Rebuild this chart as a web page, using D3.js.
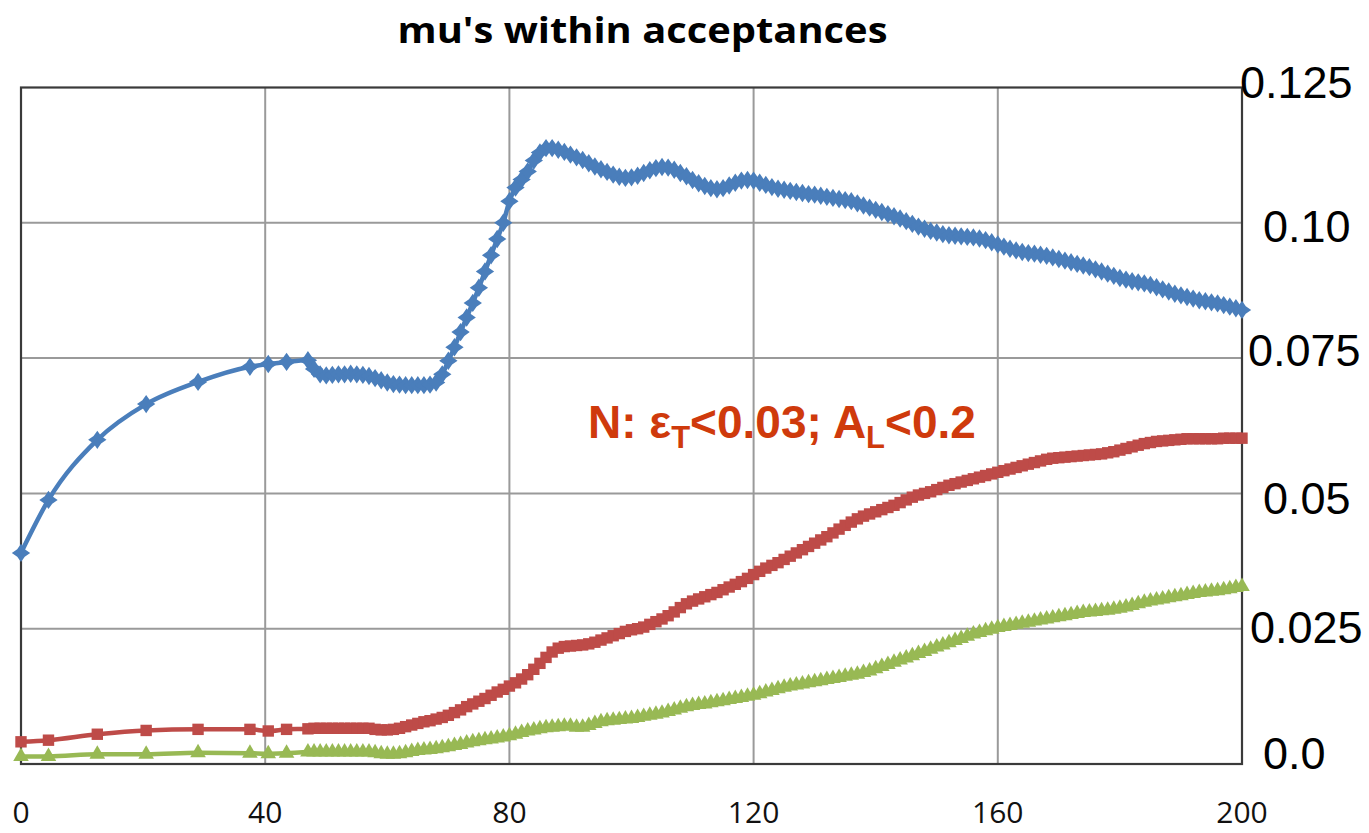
<!DOCTYPE html>
<html>
<head>
<meta charset="utf-8">
<script src="https://cdn.jsdelivr.net/npm/d3@7"></script>
<style>
  html, body { margin: 0; padding: 0; background: #ffffff; }
  svg { display: block; }
</style>
</head>
<body>
<svg id="chart" width="1369" height="833"></svg>
<script>
// Sample positions (x) shared by all three series
const xValues = [
  0, 4.5, 12.5, 20.5, 29, 37.5, 40.5, 43.5,
  47, 48, 49, 50, 51, 52, 53, 54, 55, 56,
  57, 58, 59, 60, 61, 62, 63, 64, 65, 66,
  67, 68, 69, 70, 71, 72, 73, 74, 75, 76,
  77, 78, 79, 80, 81, 82, 83, 84, 85, 86,
  87, 88, 89, 90, 91, 92, 93, 94, 95, 96,
  97, 98, 99, 100, 101, 102, 103, 104, 105, 106,
  107, 108, 109, 110, 111, 112, 113, 114, 115, 116,
  117, 118, 119, 120, 121, 122, 123, 124, 125, 126,
  127, 128, 129, 130, 131, 132, 133, 134, 135, 136,
  137, 138, 139, 140, 141, 142, 143, 144, 145, 146,
  147, 148, 149, 150, 151, 152, 153, 154, 155, 156,
  157, 158, 159, 160, 161, 162, 163, 164, 165, 166,
  167, 168, 169, 170, 171, 172, 173, 174, 175, 176,
  177, 178, 179, 180, 181, 182, 183, 184, 185, 186,
  187, 188, 189, 190, 191, 192, 193, 194, 195, 196,
  197, 198, 199, 200
];

// Blue series
const blueValues = [
  0.0390, 0.0488, 0.0599, 0.0665, 0.0706, 0.0734, 0.0739, 0.0743,
  0.0746, 0.0730, 0.0720, 0.0718, 0.0719, 0.0720, 0.0720, 0.0721, 0.0720, 0.0719,
  0.0717, 0.0713, 0.0709, 0.0705, 0.0702, 0.0701, 0.0700, 0.0700, 0.0700, 0.0700,
  0.0701, 0.0705, 0.0720, 0.0745, 0.0770, 0.0798, 0.0825, 0.0852, 0.0880, 0.0910,
  0.0940, 0.0970, 0.1000, 0.1040, 0.1065, 0.1080, 0.1095, 0.1115, 0.1130, 0.1138,
  0.1138, 0.1135, 0.1131, 0.1126, 0.1121, 0.1116, 0.1110, 0.1104, 0.1099, 0.1094,
  0.1089, 0.1085, 0.1083, 0.1084, 0.1087, 0.1092, 0.1097, 0.1101, 0.1103, 0.1102,
  0.1098, 0.1092, 0.1086, 0.1079, 0.1073, 0.1068, 0.1064, 0.1062, 0.1064, 0.1069,
  0.1074, 0.1078, 0.1079, 0.1078, 0.1074, 0.1070, 0.1066, 0.1063, 0.1061, 0.1059,
  0.1057, 0.1055, 0.1053, 0.1052, 0.1050, 0.1048, 0.1046, 0.1044, 0.1042, 0.1040,
  0.1036, 0.1032, 0.1028, 0.1024, 0.1020, 0.1016, 0.1012, 0.1008, 0.1003, 0.0998,
  0.0993, 0.0989, 0.0985, 0.0982, 0.0979, 0.0977, 0.0976, 0.0975, 0.0974, 0.0973,
  0.0971, 0.0968, 0.0964, 0.0960, 0.0956, 0.0952, 0.0949, 0.0946, 0.0944, 0.0943,
  0.0941, 0.0939, 0.0936, 0.0933, 0.0930, 0.0927, 0.0924, 0.0921, 0.0918, 0.0914,
  0.0910, 0.0906, 0.0902, 0.0898, 0.0895, 0.0892, 0.0890, 0.0888, 0.0885, 0.0881,
  0.0877, 0.0873, 0.0869, 0.0866, 0.0863, 0.0860, 0.0857, 0.0855, 0.0853, 0.0851,
  0.0848, 0.0845, 0.0842, 0.0839
];

// Red series
const redValues = [
  0.0041, 0.0044, 0.0055, 0.0062, 0.0064, 0.0064, 0.0061, 0.0064,
  0.0065, 0.0066, 0.0066, 0.0066, 0.0066, 0.0066, 0.0066, 0.0066, 0.0066, 0.0066,
  0.0066, 0.0064, 0.0063, 0.0063, 0.0064, 0.0066, 0.0069, 0.0072, 0.0075, 0.0078,
  0.0080, 0.0083, 0.0086, 0.0090, 0.0095, 0.0100, 0.0106, 0.0111, 0.0116, 0.0121,
  0.0127, 0.0133, 0.0138, 0.0144, 0.0150, 0.0157, 0.0165, 0.0175, 0.0186, 0.0197,
  0.0207, 0.0214, 0.0217, 0.0218, 0.0219, 0.0220, 0.0222, 0.0225, 0.0229, 0.0233,
  0.0237, 0.0241, 0.0245, 0.0248, 0.0250, 0.0253, 0.0258, 0.0263, 0.0268, 0.0274,
  0.0281, 0.0289, 0.0296, 0.0301, 0.0305, 0.0309, 0.0313, 0.0317, 0.0322, 0.0327,
  0.0332, 0.0337, 0.0343, 0.0350, 0.0356, 0.0362, 0.0367, 0.0372, 0.0378, 0.0384,
  0.0390, 0.0396, 0.0402, 0.0408, 0.0414, 0.0420, 0.0427, 0.0434, 0.0441, 0.0447,
  0.0453, 0.0458, 0.0462, 0.0466, 0.0470, 0.0474, 0.0478, 0.0483, 0.0488, 0.0493,
  0.0497, 0.0500, 0.0503, 0.0507, 0.0511, 0.0515, 0.0518, 0.0521, 0.0524, 0.0527,
  0.0530, 0.0533, 0.0536, 0.0539, 0.0542, 0.0545, 0.0548, 0.0551, 0.0554, 0.0557,
  0.0560, 0.0563, 0.0565, 0.0566, 0.0567, 0.0568, 0.0569, 0.0570, 0.0571, 0.0572,
  0.0573, 0.0575, 0.0577, 0.0580, 0.0583, 0.0586, 0.0589, 0.0592, 0.0594, 0.0596,
  0.0597, 0.0598, 0.0599, 0.0600, 0.0601, 0.0601, 0.0601, 0.0601, 0.0601, 0.0601,
  0.0602, 0.0602, 0.0602, 0.0602
];

// Green series
const greenValues = [
  0.0014, 0.0014, 0.0018, 0.0018, 0.0021, 0.0020, 0.0019, 0.0020,
  0.0022, 0.0022, 0.0022, 0.0022, 0.0022, 0.0022, 0.0022, 0.0022, 0.0022, 0.0022,
  0.0022, 0.0021, 0.0019, 0.0018, 0.0018, 0.0019, 0.0021, 0.0023, 0.0025, 0.0026,
  0.0027, 0.0028, 0.0030, 0.0032, 0.0034, 0.0036, 0.0039, 0.0041, 0.0043, 0.0045,
  0.0046, 0.0048, 0.0050, 0.0052, 0.0055, 0.0058, 0.0061, 0.0063, 0.0065, 0.0067,
  0.0068, 0.0069, 0.0070, 0.0070, 0.0068, 0.0068, 0.0071, 0.0075, 0.0078, 0.0080,
  0.0081, 0.0082, 0.0083, 0.0084, 0.0086, 0.0088, 0.0090, 0.0092, 0.0094, 0.0097,
  0.0100, 0.0103, 0.0106, 0.0108, 0.0110, 0.0111, 0.0113, 0.0115, 0.0117, 0.0119,
  0.0121, 0.0123, 0.0125, 0.0127, 0.0130, 0.0133, 0.0136, 0.0139, 0.0142, 0.0144,
  0.0146, 0.0148, 0.0150, 0.0152, 0.0154, 0.0156, 0.0158, 0.0160, 0.0162, 0.0164,
  0.0166, 0.0169, 0.0172, 0.0176, 0.0180, 0.0184, 0.0188, 0.0192, 0.0196, 0.0200,
  0.0204, 0.0208, 0.0212, 0.0216, 0.0220, 0.0224, 0.0228, 0.0232, 0.0236, 0.0240,
  0.0243, 0.0246, 0.0249, 0.0252, 0.0254, 0.0256, 0.0258, 0.0260, 0.0262, 0.0264,
  0.0266, 0.0268, 0.0270, 0.0272, 0.0274, 0.0276, 0.0278, 0.0280, 0.0281, 0.0282,
  0.0283, 0.0284, 0.0286, 0.0288, 0.0290, 0.0293, 0.0296, 0.0299, 0.0301, 0.0303,
  0.0305, 0.0307, 0.0309, 0.0311, 0.0313, 0.0315, 0.0317, 0.0318, 0.0319, 0.0320,
  0.0322, 0.0324, 0.0326, 0.0328
];

const xTicks = [0, 40, 80, 120, 160, 200];
const yTicks = [0, 0.025, 0.05, 0.075, 0.10, 0.125];
const yTickLabels = ["0.0", "0.025", "0.05", "0.075", "0.10", "0.125"];

const titleText = "mu's within acceptances";

// ---- layout ----
const svg = d3.select("#chart");
const plot = { left: 21, right: 1242, top: 87.5, bottom: 764 };

const x = d3.scaleLinear().domain([0, 200]).range([plot.left, plot.right]);
const y = d3.scaleLinear().domain([0, 0.125]).range([plot.bottom, plot.top]);

// gridlines
const grid = svg.append("g").attr("class", "grid");
grid.selectAll("line.gx")
  .data(xTicks.filter(t => t > 0 && t < 200))
  .join("line")
  .attr("x1", d => x(d)).attr("x2", d => x(d))
  .attr("y1", plot.top).attr("y2", plot.bottom)
  .attr("stroke", "#9a9a9a").attr("stroke-width", 2);
grid.selectAll("line.gy")
  .data(yTicks.filter(t => t > 0 && t < 0.125))
  .join("line")
  .attr("x1", plot.left).attr("x2", plot.right)
  .attr("y1", d => y(d)).attr("y2", d => y(d))
  .attr("stroke", "#9a9a9a").attr("stroke-width", 2);

// plot frame
svg.append("rect")
  .attr("x", plot.left).attr("y", plot.top)
  .attr("width", plot.right - plot.left).attr("height", plot.bottom - plot.top)
  .attr("fill", "none").attr("stroke", "#3a3a3a").attr("stroke-width", 2.2);

// x tick labels
svg.append("g").selectAll("text")
  .data(xTicks)
  .join("text")
  .attr("x", d => x(d))
  .attr("y", 823)
  .attr("text-anchor", "middle")
  .attr("font-family", "'Open Sans', sans-serif")
  .attr("font-size", 30)
  .attr("fill", "#111")
  .text(d => d);

// y tick labels on the right, each nudged to sit beside its gridline
const yLabelPlace = {
  "0.0":   { x: 1263, dy: 5 },
  "0.025": { x: 1250, dy: 14 },
  "0.05":  { x: 1263, dy: 21 },
  "0.075": { x: 1248, dy: 8 },
  "0.10":  { x: 1263, dy: 19 },
  "0.125": { x: 1240, dy: 10 }
};
svg.append("g").selectAll("text")
  .data(yTicks.map((v, i) => ({ v, label: yTickLabels[i] })))
  .join("text")
  .attr("x", d => yLabelPlace[d.label].x)
  .attr("y", d => y(d.v) + yLabelPlace[d.label].dy)
  .attr("text-anchor", "start")
  .attr("font-family", "'Liberation Sans', Arial, sans-serif")
  .attr("font-size", 45)
  .attr("fill", "#000")
  .text(d => d.label);

// title
svg.append("text")
  .attr("x", 642.5).attr("y", 43)
  .attr("text-anchor", "middle")
  .attr("font-family", "'Open Sans', sans-serif")
  .attr("font-weight", "bold")
  .attr("font-size", 36)
  .attr("textLength", 490)
  .attr("lengthAdjust", "spacingAndGlyphs")
  .attr("fill", "#000")
  .text(titleText);

// series
const series = [
  { name: "blue",  values: blueValues,  color: "#4a7ebb", marker: "star" },
  { name: "red",   values: redValues,   color: "#be4b48", marker: "square" },
  { name: "green", values: greenValues, color: "#98b954", marker: "triangle" }
];

const line = d3.line()
  .x(d => x(d.x)).y(d => y(d.v))
  .curve(d3.curveMonotoneX);

// four-point star marker (Excel-like diamond)
const starSymbol = {
  draw(ctx, size) {
    const r = Math.sqrt(size) * 0.75;
    const ri = r * 0.58;
    for (let k = 0; k < 8; k++) {
      const a = k * Math.PI / 4 - Math.PI / 2;
      const rr = k % 2 === 0 ? r : ri;
      const px = rr * Math.cos(a), py = rr * Math.sin(a);
      if (k === 0) ctx.moveTo(px, py); else ctx.lineTo(px, py);
    }
    ctx.closePath();
  }
};

const markerPath = {
  star: d3.symbol().type(starSymbol).size(150)(),
  square: d3.symbol().type(d3.symbolSquare).size(130)(),
  triangle: d3.symbol().type(d3.symbolTriangle).size(105)()
};

series.forEach(s => {
  const pts = xValues.map((xv, i) => ({ x: xv, v: s.values[i] }));
  const g = svg.append("g").attr("class", "series-" + s.name);
  g.append("path")
    .datum(pts)
    .attr("d", line)
    .attr("fill", "none")
    .attr("stroke", s.color)
    .attr("stroke-width", 4.5)
    .attr("stroke-linejoin", "round");
  g.selectAll("path.mk")
    .data(pts)
    .join("path")
    .attr("class", "mk")
    .attr("d", markerPath[s.marker])
    .attr("transform", d => `translate(${x(d.x)},${y(d.v)})`)
    .attr("fill", s.color);
});

// annotation
const note = svg.append("text")
  .attr("x", 588).attr("y", 438)
  .attr("font-family", "'Liberation Sans', Arial, sans-serif")
  .attr("font-weight", "bold")
  .attr("font-size", 46)
  .attr("fill", "#cf3a0c");
note.append("tspan").text("N: ε");
note.append("tspan").attr("font-size", 31).attr("dy", 10).text("T");
note.append("tspan").attr("dy", -10).text("<0.03; A");
note.append("tspan").attr("font-size", 31).attr("dy", 10).text("L");
note.append("tspan").attr("dy", -10).text("<0.2");
</script>
</body>
</html>
